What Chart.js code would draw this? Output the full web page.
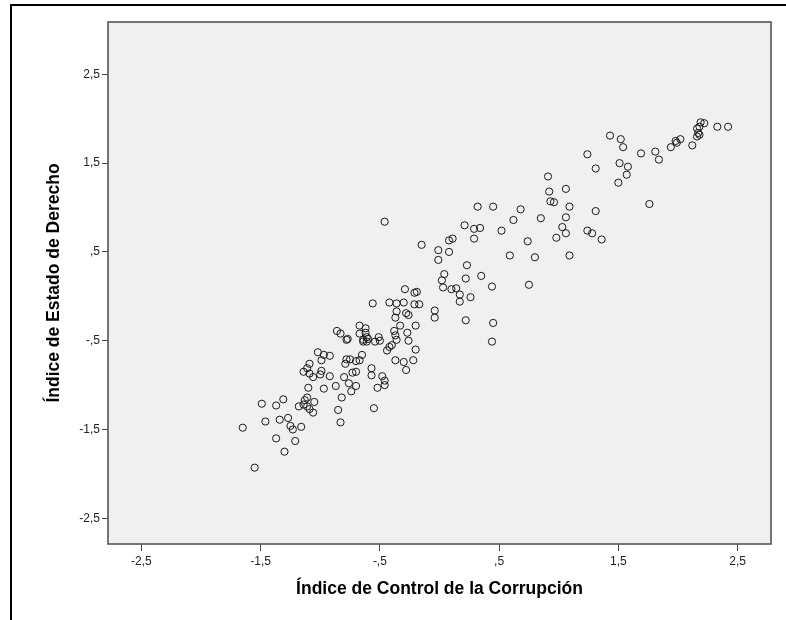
<!DOCTYPE html>
<html>
<head>
<meta charset="utf-8">
<script src="https://cdn.jsdelivr.net/npm/chart.js@4.4.0/dist/chart.umd.min.js"></script>
<style>
    body { margin: 0; background: #fff; }
    #wrap { position: relative; width: 786px; height: 620px; overflow: hidden; }
    #frame { position: absolute; left: 10px; top: 4px; width: 900px; height: 800px; border-left: 2px solid #000; border-top: 2px solid #000; }
    canvas { position: absolute; left: 0; top: 0; }
</style>
</head>
<body>
<div id="wrap">
    <div id="frame"></div>
    <canvas id="scatterChart" width="786" height="620"></canvas>
</div>
<script>
// values
let xValues = [
    -1.65, -1.55, -1.49, -1.46, -1.37, -1.31, -1.34, -1.27, -1.25, -1.23,
    -1.16, -1.37, -1.21, -1.30, -1.18, -1.13, -1.11, -1.14, -1.11, -1.09,
    -1.06, -1.05, -1.10, -1.14, -1.11, -1.09, -1.09, -1.06, -1.02, -0.97,
    -0.92, -0.99, -0.99, -1.00, -0.92, -0.97, -0.87, -0.82, -0.85, -0.83,
    -0.79, -0.78, -0.70, -0.80, -0.76, -0.74, -0.73, -0.70, -0.70, -0.86,
    -0.83, -0.78, -0.77, -0.75, -0.67, -0.62, -0.62, -0.61, -0.64, -0.60,
    -0.67, -0.65, -0.67, -0.56, -0.51, -0.50, -0.57, -0.57, -0.55, -0.48,
    -0.46, -0.46, -0.52, -0.64, -0.54, -0.61, -0.42, -0.36, -0.30, -0.21,
    -0.17, -0.36, -0.37, -0.28, -0.26, -0.33, -0.20, -0.38, -0.37, -0.36,
    -0.27, -0.26, -0.40, -0.42, -0.44, -0.20, -0.37, -0.30, -0.22, -0.28,
    -0.04, -0.04, 0.22, 0.45, 0.44, -0.29, -0.21, -0.19, -0.15, -0.01,
    0.08, -0.01, 0.08, 0.11, 0.23, 0.22, 0.35, 0.04, 0.02, 0.03,
    0.10, 0.14, 0.17, 0.26, 0.17, 0.44, 0.32, 0.45, 0.21, 0.29,
    0.34, 0.29, 0.52, 0.62, 0.68, 0.74, 0.80, 0.59, 0.75, 0.85,
    0.91, 0.92, 0.93, 0.96, 1.06, 1.09, 1.06, 1.03, 1.06, 0.98,
    1.09, 1.24, 1.28, 1.36, 1.31, 1.24, 1.31, 1.43, 1.52, 1.54,
    1.69, 1.81, 1.84, 1.51, 1.58, 1.57, 1.50, 1.76, 1.94, 1.98,
    2.02, 1.99, 2.12, 2.16, 2.17, 2.18, 2.18, 2.16, 2.19, 2.22,
    2.33, 2.42, -0.46
];
let yValues = [
    -1.48, -1.93, -1.21, -1.41, -1.23, -1.16, -1.39, -1.37, -1.46, -1.50,
    -1.47, -1.60, -1.63, -1.75, -1.24, -1.17, -1.14, -1.22, -1.24, -1.27,
    -1.31, -1.19, -1.03, -0.85, -0.81, -0.76, -0.87, -0.91, -0.63, -0.66,
    -0.67, -0.72, -0.84, -0.88, -0.90, -1.04, -1.01, -1.14, -1.28, -1.42,
    -0.76, -0.71, -0.73, -0.91, -0.98, -1.07, -0.86, -0.85, -1.01, -0.39,
    -0.42, -0.49, -0.48, -0.71, -0.33, -0.36, -0.41, -0.46, -0.49, -0.48,
    -0.42, -0.66, -0.72, -0.08, -0.46, -0.50, -0.81, -0.89, -1.26, -0.90,
    -0.95, -1.00, -1.03, -0.51, -0.51, -0.51, -0.07, -0.08, -0.07, -0.09,
    -0.09, -0.17, -0.24, -0.19, -0.21, -0.33, -0.33, -0.39, -0.44, -0.49,
    -0.41, -0.50, -0.55, -0.57, -0.61, -0.60, -0.72, -0.74, -0.72, -0.83,
    -0.16, -0.24, -0.27, -0.30, -0.51, 0.08, 0.04, 0.05, 0.58, 0.52,
    0.50, 0.41, 0.63, 0.65, 0.35, 0.20, 0.23, 0.25, 0.18, 0.10,
    0.08, 0.09, 0.02, -0.01, -0.06, 0.11, 1.01, 1.01, 0.80, 0.76,
    0.77, 0.65, 0.74, 0.86, 0.98, 0.62, 0.44, 0.46, 0.13, 0.88,
    1.35, 1.18, 1.07, 1.06, 1.21, 1.01, 0.89, 0.78, 0.71, 0.66,
    0.46, 0.74, 0.71, 0.64, 0.96, 1.60, 1.44, 1.81, 1.77, 1.68,
    1.61, 1.63, 1.54, 1.50, 1.46, 1.37, 1.28, 1.04, 1.68, 1.75,
    1.77, 1.73, 1.70, 1.80, 1.84, 1.82, 1.91, 1.89, 1.96, 1.95,
    1.91, 1.91, 0.84
];
let tickValues = [-2.5, -1.5, -0.5, 0.5, 1.5, 2.5];
let tickLabels = ["-2,5", "-1,5", "-,5", ",5", "1,5", "2,5"];
let xTitle = "Índice de Control de la Corrupción";
let yTitle = "Índice de Estado de Derecho";

Chart.defaults.font.family = "'Liberation Sans', Arial, sans-serif";

// grey plot area + dark box round it, like SPSS
const plotFrame = {
    id: "plotFrame",
    beforeDatasetsDraw(chart){
        const {ctx, chartArea} = chart;
        ctx.save();
        ctx.fillStyle = "#f0f0f0";
        ctx.fillRect(chartArea.left, chartArea.top, chartArea.right - chartArea.left, chartArea.bottom - chartArea.top);
        ctx.restore();
    },
    afterDatasetsDraw(chart){
        const {ctx, chartArea} = chart;
        ctx.save();
        ctx.strokeStyle = "#555";
        ctx.lineWidth = 1.6;
        ctx.strokeRect(chartArea.left, chartArea.top, chartArea.right - chartArea.left, chartArea.bottom - chartArea.top);
        ctx.restore();
    }
};

function tickText(value){
    let i = tickValues.indexOf(Math.round(value * 10) / 10);
    return i >= 0 ? tickLabels[i] : "";
}

function scatterBuilder(){

    let points = [];
    xValues.forEach((x, i) => {
        points.push({x: x, y: yValues[i]});
    });

    new Chart("scatterChart", {
        type: "scatter",
        data: {
            datasets: [{
                data: points,
                pointRadius: 3.6,
                pointHoverRadius: 3.6,
                borderWidth: 1,
                borderColor: "#1a1a1a",
                backgroundColor: "rgba(0,0,0,0)"
            }]
        },
        options: {
            responsive: false,
            animation: false,
            devicePixelRatio: 1,
            layout: {
                padding: {top: 22, right: 15, left: 0, bottom: 0}
            },
            plugins: {
                legend: {display: false},
                tooltip: {enabled: false}
            },
            scales: {
                x: {
                    type: "linear",
                    min: -2.78,
                    max: 2.78,
                    afterBuildTicks: scale => { scale.ticks = tickValues.map(v => ({value: v})); },
                    afterFit: scale => { scale.height = 76; },
                    grid: {drawOnChartArea: false, drawTicks: true, tickLength: 7, color: "#444"},
                    border: {display: false},
                    ticks: {callback: tickText, font: {size: 12}, color: "#222", padding: 3, maxRotation: 0, autoSkip: false},
                    title: {display: true, text: xTitle, color: "#000", font: {size: 17.5, weight: "bold"}, padding: {top: 0, bottom: 20}}
                },
                y: {
                    type: "linear",
                    min: -2.79,
                    max: 3.09,
                    afterBuildTicks: scale => { scale.ticks = tickValues.map(v => ({value: v})); },
                    afterFit: scale => { scale.width = 108; },
                    grid: {drawOnChartArea: false, drawTicks: true, tickLength: 6, color: "#444"},
                    border: {display: false},
                    ticks: {callback: tickText, font: {size: 12}, color: "#222", padding: 2, autoSkip: false},
                    title: {display: true, text: yTitle, color: "#000", font: {size: 17.5, weight: "bold"}, padding: {top: 44, bottom: 0}}
                }
            }
        },
        plugins: [plotFrame]
    });
}

scatterBuilder();
</script>
</body>
</html>
